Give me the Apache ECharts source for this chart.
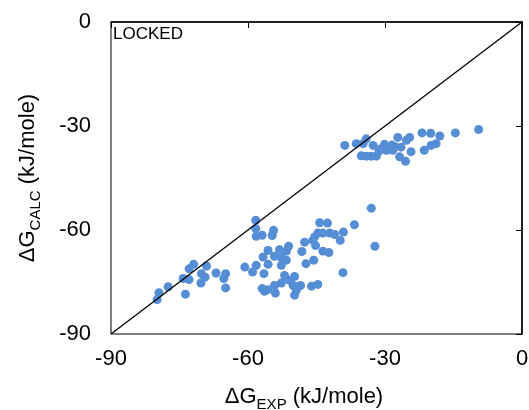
<!DOCTYPE html>
<html>
<head>
<meta charset="utf-8">
<script src="https://cdn.jsdelivr.net/npm/echarts@6/dist/echarts.min.js"></script>
<style>
  html, body { margin: 0; padding: 0; background: #fff; }
  #chart { width: 529px; height: 410px; }
</style>
</head>
<body>
<div id="chart"></div>
<script>
const expX = [
  -9.5, -14.6, -18.0, -20.0, -21.9, -18.8, -19.9, -21.4, -24.6, -25.3,
  -27.2, -26.5, -24.3, -25.5, -26.8, -28.3, -29.0, -30.1, -30.8, -31.9,
  -33.0, -34.1, -35.2, -32.6, -34.1, -34.8, -36.3, -38.8, -29.7, -27.9,
  -28.5, -31.3,
  -33.0, -32.2, -36.7, -39.2, -39.1, -39.8, -41.0, -42.1, -42.6, -44.3,
  -43.6, -44.7, -45.4, -45.8, -45.2, -43.6, -42.3, -47.6, -48.2, -47.3,
  -45.6, -51.1, -51.6, -53.1, -54.2, -52.7, -51.6, -52.7, -55.6, -56.7,
  -55.6, -58.2, -56.5, -59.0, -60.7, -54.4, -54.7, -58.3, -58.3, -58.2,
  -56.9, -52.0, -49.8, -50.9, -52.7, -54.2, -50.1, -48.5, -49.4, -49.8,
  -54.0, -55.7, -56.9, -56.4, -46.1, -44.7,
  -79.9, -79.5, -77.5, -73.7, -74.2, -72.9, -72.9, -71.9, -69.1, -70.2,
  -69.4, -70.3, -67.0, -64.9, -65.3, -64.9
];
const calcY = [
  -31.0, -32.0, -32.9, -32.1, -32.0, -35.1, -35.6, -37.0, -33.3, -34.1,
  -33.3, -36.1, -37.4, -40.2, -38.9, -37.0, -36.5, -35.3, -36.5, -38.7,
  -38.7, -38.7, -38.6, -35.6, -33.7, -35.1, -35.1, -35.6, -37.0, -35.9,
  -35.5, -37.2,
  -53.7, -64.7, -58.5, -72.3, -60.6, -63.0, -61.3, -60.9, -58.0, -57.9,
  -60.9, -60.9, -62.0, -63.0, -64.5, -66.1, -66.5, -63.5, -66.2, -69.7,
  -68.7, -64.7, -66.1, -65.7, -67.6, -68.0, -68.7, -70.2, -65.9, -67.8,
  -69.9, -70.2, -72.6, -72.1, -70.7, -60.1, -61.6, -57.2, -59.6, -61.8,
  -61.5, -73.1, -73.4, -74.5, -75.3, -76.0, -76.0, -76.0, -77.4, -78.8,
  -78.2, -77.2, -76.9, -77.7, -76.2, -75.7,
  -80.1, -78.1, -76.4, -78.5, -74.0, -74.3, -71.2, -69.9, -70.4, -72.6,
  -73.6, -75.3, -72.4, -72.6, -74.0, -76.7
];
// y = x reference line
const diagX = [-90, 0];
const diagY = [-90, 0];

const font = 'Arial, "Liberation Sans", sans-serif';
const chart = echarts.init(document.getElementById('chart'));

const points = expX.map((x, i) => [x, calcY[i]]);
const diag = diagX.map((x, i) => [x, diagY[i]]);

const axisCommon = {
  type: 'value',
  min: -90,
  max: 0,
  interval: 30,
  axisLine: { show: true, lineStyle: { color: '#000', width: 1.5 } },
  axisTick: { show: true, inside: false, length: 6, lineStyle: { color: '#000', width: 1 } },
  axisLabel: { color: '#000', fontSize: 22, fontFamily: font },
  splitLine: { show: false }
};

const nameRich = {
  a: { fontSize: 22, fontFamily: font, color: '#000', verticalAlign: 'bottom', lineHeight: 24 },
  b: { fontSize: 15, fontFamily: font, color: '#000', verticalAlign: 'bottom', lineHeight: 18, padding: [0, 0, -4, 0] }
};

chart.setOption({
  animation: false,
  backgroundColor: '#fff',
  grid: {
    left: 111, right: 7, top: 22, bottom: 76,
    outerBoundsMode: 'none',
    containLabel: false,
    show: true, borderColor: '#000', borderWidth: 1
  },
  xAxis: Object.assign({}, axisCommon, {
    axisLabel: Object.assign({}, axisCommon.axisLabel, { margin: 14 }),
    name: '{a|ΔG}{b|EXP}{a| (kJ/mole)}',
    nameLocation: 'middle',
    nameGap: 50,
    nameTextStyle: { padding: [0, 25, 0, 0], rich: nameRich }
  }),
  yAxis: Object.assign({}, axisCommon, {
    axisLabel: Object.assign({}, axisCommon.axisLabel, { margin: 20 }),
    name: '{a|ΔG}{b|CALC}{a| (kJ/mole)}',
    nameLocation: 'middle',
    nameGap: 72,
    nameRotate: 90,
    nameTextStyle: { rich: nameRich }
  }),
  graphic: [{
    type: 'text',
    left: 113,
    top: 26,
    style: { text: 'LOCKED', fontSize: 17, fontFamily: font, fill: '#000' }
  }],
  series: [
    {
      type: 'scatter',
      data: points,
      symbol: 'circle',
      symbolSize: 9,
      itemStyle: { color: '#558ed5', opacity: 1 },
      z: 2
    },
    {
      type: 'line',
      data: diag,
      symbol: 'none',
      silent: true,
      lineStyle: { color: '#000', width: 1.3 },
      z: 3
    }
  ]
});
</script>
</body>
</html>
